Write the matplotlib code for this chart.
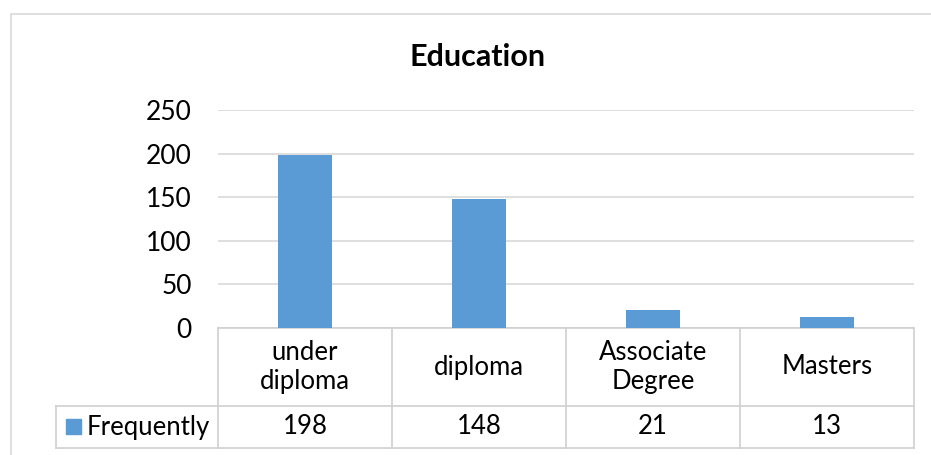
import matplotlib
matplotlib.use("Agg")
import matplotlib.pyplot as plt
from matplotlib.patches import Rectangle
from matplotlib.lines import Line2D

title = "Education"
categories = ["under\ndiploma", "diploma", "Associate\nDegree", "Masters"]
series_name = "Frequently"
values = [198, 148, 21, 13]
yticks = [0, 50, 100, 150, 200, 250]

W, H = 931, 455
BAR = "#5B9BD5"
GRID = "#D9D9D9"
TBL = "#D0D0D0"
FONT = "Lato"
TXT = "#000000"

fig = plt.figure(figsize=(W / 100, H / 100), dpi=100)

def fx(px):
    return px / W

def fy(py):
    return 1 - py / H

# outer chart border
fig.add_artist(Rectangle((fx(11), fy(475)), fx(940) - fx(11), fy(14) - fy(475),
                         transform=fig.transFigure, fill=False,
                         edgecolor="#D9D9D9", lw=1.2))

left, right, top, bottom = 218, 914, 110, 328
ax = fig.add_axes([fx(left), fy(bottom), fx(right) - fx(left), fy(top) - fy(bottom)])
x = list(range(len(categories)))
ax.bar(x, values, width=0.315, color=BAR, zorder=3)
ax.set_xlim(-0.5, len(categories) - 0.5)
ax.set_ylim(0, 250)
ax.set_yticks(yticks)
ax.set_yticklabels([str(t) for t in yticks], fontsize=19, family=FONT, color=TXT)
ax.tick_params(axis="y", length=0, pad=19)
ax.set_xticks([])
ax.yaxis.grid(True, color=GRID, lw=1.2, zorder=0)
for s in ["top", "right", "left"]:
    ax.spines[s].set_visible(False)
ax.spines["bottom"].set_color(TBL)
ax.spines["bottom"].set_linewidth(1.2)

fig.text(fx(478), fy(57), title, ha="center", va="center",
         fontsize=22, fontweight="bold", family=FONT, color=TXT)

# data table
row1_bot, row2_bot = 406, 448
leg_left = 56
colw = (right - left) / len(categories)

def hline(x0, x1, y):
    fig.add_artist(Line2D([fx(x0), fx(x1)], [fy(y), fy(y)], transform=fig.transFigure,
                          color=TBL, lw=1.2))

def vline(xp, y0, y1):
    fig.add_artist(Line2D([fx(xp), fx(xp)], [fy(y0), fy(y1)], transform=fig.transFigure,
                          color=TBL, lw=1.2))

hline(leg_left, right, row1_bot)
hline(leg_left, right, row2_bot)
for i in range(len(categories) + 1):
    vline(left + i * colw, bottom, row2_bot)
vline(leg_left, row1_bot, row2_bot)

FS = 18.5
for i, (c, v) in enumerate(zip(categories, values)):
    cx = left + (i + 0.5) * colw
    fig.text(fx(cx), fy((bottom + row1_bot) / 2), c, ha="center", va="center",
             fontsize=FS, family=FONT, linespacing=1.25, color=TXT)
    fig.text(fx(cx), fy((row1_bot + row2_bot) / 2), str(v), ha="center", va="center",
             fontsize=FS, family=FONT, color=TXT)

fig.add_artist(Rectangle((fx(66), fy(434)), fx(15), fy(419) - fy(434),
                         transform=fig.transFigure, color=BAR))
fig.text(fx(87), fy((row1_bot + row2_bot) / 2), series_name, ha="left", va="center",
         fontsize=FS, family=FONT, color=TXT)

fig.savefig("out.png", dpi=100)
